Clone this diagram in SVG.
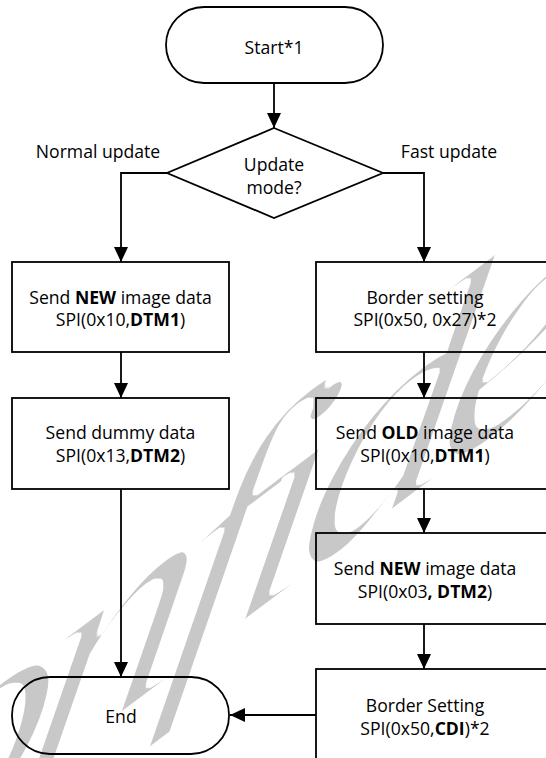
<svg xmlns="http://www.w3.org/2000/svg" width="546" height="758" viewBox="0 0 546 758">
  <style>
    .shape { fill: none; stroke: #000; stroke-width: 1.8; }
    .wire { fill: none; stroke: #000; stroke-width: 1.8; }
    .label { font-family: "Open Sans", "Liberation Sans", sans-serif; font-size: 17.6px; fill: #000; text-anchor: middle; }
    .b { font-weight: bold; }
    .mark { font-family: "Liberation Serif", "DejaVu Serif", serif; font-style: italic; font-size: 330px; letter-spacing: -25px; fill: #c8c8c8; }
  </style>
  <defs>
    <marker id="arrow" markerUnits="userSpaceOnUse" markerWidth="15" markerHeight="14" refX="15" refY="7" orient="auto">
      <path d="M0,0 L15,7 L0,14 z" fill="#000"/>
    </marker>
    <!-- thins the watermark glyph strokes slightly -->
    <filter id="thin" x="-10%" y="-10%" width="120%" height="120%">
      <feMorphology operator="erode" radius="2"/>
    </filter>
  </defs>

  <rect width="546" height="758" fill="#fff"/>

  <!-- watermark, slanted up along the page diagonal -->
  <g filter="url(#thin)">
    <text class="mark" transform="matrix(1 -0.75 -0.2 0.95 -320 1046)" x="0" y="0">Confidential</text>
  </g>

  <!-- connectors -->
  <g id="connectors" class="wire">
    <path d="M274,83 V128" marker-end="url(#arrow)"/>
    <path d="M167,173 H121 V262" marker-end="url(#arrow)"/>
    <path d="M383,173 H424 V262" marker-end="url(#arrow)"/>
    <path d="M121,352 V398" marker-end="url(#arrow)"/>
    <path d="M424,352 V398" marker-end="url(#arrow)"/>
    <path d="M424,489 V533" marker-end="url(#arrow)"/>
    <path d="M424,624 V669" marker-end="url(#arrow)"/>
    <path d="M121,489 V677" marker-end="url(#arrow)"/>
    <path d="M316,715 H230" marker-end="url(#arrow)"/>
  </g>

  <g id="start">
    <rect class="shape" x="166" y="7" width="217" height="76" rx="38"/>
    <text class="label" x="274" y="54">Start*1</text>
  </g>

  <g id="decision">
    <polygon class="shape" points="274,128 383,173 274,218 167,173"/>
    <text class="label" x="274" y="171">Update</text>
    <text class="label" x="274" y="194">mode?</text>
  </g>

  <g id="branch-labels">
    <text class="label" x="98" y="158">Normal update</text>
    <text class="label" x="449" y="158">Fast update</text>
  </g>

  <g id="send-new-normal">
    <rect class="shape" x="12" y="262" width="217" height="90"/>
    <text class="label" x="120.5" y="304">Send <tspan class="b">NEW</tspan> image data</text>
    <text class="label" x="120.5" y="326">SPI(0x10,<tspan class="b">DTM1</tspan>)</text>
  </g>

  <g id="send-dummy">
    <rect class="shape" x="12" y="398" width="217" height="91"/>
    <text class="label" x="120.5" y="439">Send dummy data</text>
    <text class="label" x="120.5" y="462">SPI(0x13,<tspan class="b">DTM2</tspan>)</text>
  </g>

  <g id="border-setting-1">
    <rect class="shape" x="316" y="262" width="240" height="90"/>
    <text class="label" x="425" y="304">Border setting</text>
    <text class="label" x="425" y="326">SPI(0x50, 0x27)*2</text>
  </g>

  <g id="send-old">
    <rect class="shape" x="316" y="398" width="240" height="91"/>
    <text class="label" x="425" y="439">Send <tspan class="b">OLD</tspan> image data</text>
    <text class="label" x="425" y="462">SPI(0x10,<tspan class="b">DTM1</tspan>)</text>
  </g>

  <g id="send-new-fast">
    <rect class="shape" x="316" y="533" width="240" height="91"/>
    <text class="label" x="425" y="575">Send <tspan class="b">NEW</tspan> image data</text>
    <text class="label" x="425" y="598">SPI(0x03<tspan class="b">, DTM2</tspan>)</text>
  </g>

  <g id="border-setting-2">
    <rect class="shape" x="316" y="669" width="240" height="100"/>
    <text class="label" x="425" y="712">Border Setting</text>
    <text class="label" x="425" y="735">SPI(0x50,<tspan class="b">CDI</tspan>)*2</text>
  </g>

  <g id="end">
    <rect class="shape" x="12" y="677" width="217" height="77" rx="38"/>
    <text class="label" x="121" y="723">End</text>
  </g>
</svg>
